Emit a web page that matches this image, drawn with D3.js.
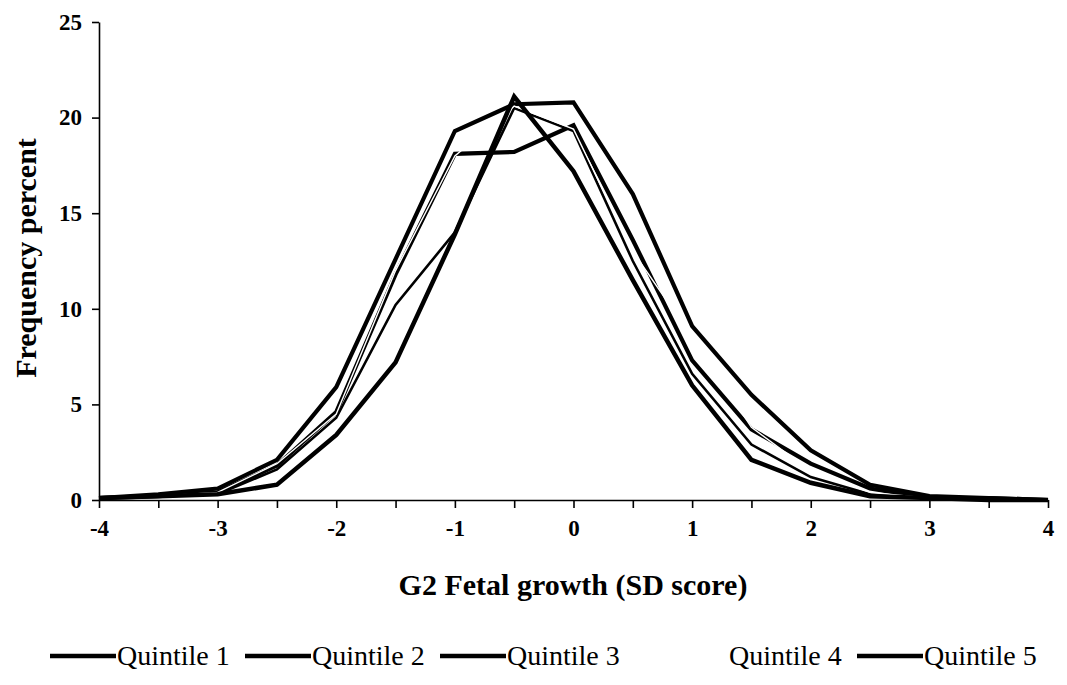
<!DOCTYPE html>
<html>
<head>
<meta charset="utf-8">
<script src="https://cdn.jsdelivr.net/npm/d3@7"></script>
<style>
  body { margin: 0; background: #fff; }
</style>
</head>
<body>
<div id="chart"></div>
<script>
// SD score bins
const sdScores = [-4, -3.5, -3, -2.5, -2, -1.5, -1, -0.5, 0, 0.5, 1, 1.5, 2, 2.5, 3, 3.5, 4];

// frequency percent per quintile
const quintile1 = [0.1, 0.3, 0.6, 2.1, 5.9, 12.6, 19.3, 20.7, 20.8, 16.0, 9.1, 5.5, 2.6, 0.8, 0.2, 0.1, 0.0];
const quintile2 = [0.1, 0.2, 0.4, 1.8, 4.6, 11.8, 18.1, 18.2, 19.6, 13.6, 7.3, 3.7, 1.9, 0.6, 0.1, 0.1, 0.0];
const quintile3 = [0.1, 0.2, 0.3, 1.6, 4.3, 10.2, 14.0, 20.5, 19.3, 12.5, 6.6, 2.9, 1.2, 0.3, 0.1, 0.0, 0.0];
const quintile4 = [0.1, 0.2, 0.4, 1.9, 4.5, 12.0, 18.0, 20.6, 19.4, 13.0, 8.5, 3.8, 1.5, 0.4, 0.1, 0.0, 0.0];
const quintile5 = [0.1, 0.2, 0.3, 0.8, 3.4, 7.2, 13.9, 21.1, 17.2, 11.5, 6.0, 2.1, 0.9, 0.2, 0.1, 0.0, 0.0];

const seriesNames = ["Quintile 1", "Quintile 2", "Quintile 3", "Quintile 4", "Quintile 5"];
const xTicks = [-4, -3, -2, -1, 0, 1, 2, 3, 4];
const yTicks = [0, 5, 10, 15, 20, 25];

const width = 1067;
const height = 685;
const serif = "'Liberation Serif', 'Times New Roman', Times, serif";

const series = [
  { name: seriesNames[0], values: quintile1, color: "#000", w: 4.2 },
  { name: seriesNames[1], values: quintile2, color: "#000", w: 4.2 },
  { name: seriesNames[2], values: quintile3, color: "#000", w: 2.6 },
  { name: seriesNames[3], values: quintile4, color: "#fff", w: 1.4 },
  { name: seriesNames[4], values: quintile5, color: "#000", w: 4.5 }
];

const svg = d3.select("#chart")
  .append("svg")
  .attr("width", width)
  .attr("height", height)
  .attr("font-family", serif);

const x = d3.scaleLinear().domain([-4, 4]).range([99, 1048]);
const y = d3.scaleLinear().domain([0, 25]).range([500, 22]);

// lines first, axes drawn on top
const line = d3.line()
  .x((d, i) => x(sdScores[i]))
  .y(d => y(d));

svg.selectAll(".series")
  .data(series)
  .enter()
  .append("path")
  .attr("class", "series")
  .attr("d", d => line(d.values))
  .attr("fill", "none")
  .attr("stroke", d => d.color)
  .attr("stroke-width", d => d.w)
  .attr("stroke-linejoin", "miter");

// x axis, minor ticks every 0.5
const xAxis = svg.append("g")
  .attr("transform", "translate(0," + y(0) + ")")
  .call(d3.axisBottom(x).tickValues(sdScores).tickSize(8).tickSizeOuter(0)
    .tickFormat(d => xTicks.includes(d) ? d : ""))
  .attr("font-family", serif);
xAxis.select(".domain").attr("stroke", "#000").attr("stroke-width", 1.6);
xAxis.selectAll(".tick line").attr("stroke", "#000").attr("stroke-width", 1.6);
xAxis.selectAll(".tick text")
  .attr("dy", "1.1em")
  .style("font-family", serif)
  .style("font-size", "23px")
  .style("font-weight", "bold");

const yAxis = svg.append("g")
  .attr("transform", "translate(" + x(-4) + ",0)")
  .call(d3.axisLeft(y).tickValues(yTicks).tickSize(7).tickSizeOuter(0))
  .attr("font-family", serif);
yAxis.select(".domain").attr("stroke", "#000").attr("stroke-width", 1.6);
yAxis.selectAll(".tick line").attr("stroke", "#000").attr("stroke-width", 1.6);
yAxis.selectAll(".tick text")
  .attr("x", -17)
  .style("font-family", serif)
  .style("font-size", "23px")
  .style("font-weight", "bold");

// axis titles
svg.append("text")
  .attr("x", 573)
  .attr("y", 595)
  .attr("text-anchor", "middle")
  .style("font-family", serif)
  .style("font-size", "30px")
  .style("font-weight", "bold")
  .text("G2 Fetal growth (SD score)");

svg.append("text")
  .attr("transform", "translate(36,258) rotate(-90)")
  .attr("text-anchor", "middle")
  .style("font-family", serif)
  .style("font-size", "30px")
  .style("font-weight", "bold")
  .text("Frequency percent");

// legend
const legendX = [50, 245, 440, 662, 857];
const legend = svg.selectAll(".legend")
  .data(series)
  .enter()
  .append("g")
  .attr("class", "legend")
  .attr("transform", (d, i) => "translate(" + legendX[i] + ",656)");

legend.append("line")
  .attr("x1", 0).attr("x2", 66)
  .attr("stroke", d => d.color)
  .attr("stroke-width", 4.5);

legend.append("text")
  .attr("x", 67)
  .attr("y", 9)
  .style("font-family", serif)
  .style("font-size", "28px")
  .text(d => d.name);
</script>
</body>
</html>
